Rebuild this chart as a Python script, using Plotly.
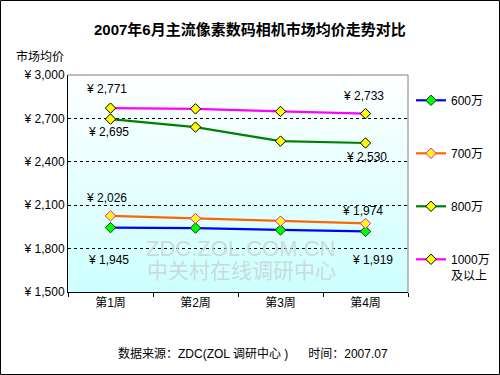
import plotly.graph_objects as go

weeks = ["第1周", "第2周", "第3周", "第4周"]
series_names = ["600万", "700万", "800万", "1000万<br>及以上"]
v600 = [1945, 1942, 1929, 1919]
v700 = [2026, 2008, 1990, 1974]
v800 = [2695, 2640, 2543, 2530]
v1000 = [2771, 2766, 2748, 2733]
y_ticks = [1500, 1800, 2100, 2400, 2700, 3000]

W, H = 500, 375
L, R, T, B = 68, 92, 75, 83
PW, PH = W - L - R, H - T - B
FONT = "Arial, 'Liberation Sans', 'Noto Sans CJK SC', sans-serif"

def px_x(x):
    return (x - L) / PW

def px_y(y):
    return (H - B - y) / PH

line_colors = ["#0000FF", "#FF6600", "#008000", "#FF00FF"]
mk_fill = ["#00FF00", "#FFFF00", "#FFFF00", "#FFFF00"]
mk_line = ["#004000", "#FF00FF", "#000000", "#000000"]
all_vals = [v600, v700, v800, v1000]

fig = go.Figure()
for i, (name, vals) in enumerate(zip(series_names, all_vals)):
    fig.add_trace(go.Scatter(
        x=weeks, y=vals, name=name, mode="lines+markers",
        line=dict(color=line_colors[i], width=2.2),
        marker=dict(symbol="diamond", size=8, color=mk_fill[i],
                    line=dict(color=mk_line[i], width=1)),
        legendgroup=str(i),
    ))

shapes = []
# gradient background bands
N = 60
for k in range(N):
    t0, t1 = k / N, (k + 1) / N
    f = (k + 0.5) / N  # 0 bottom -> 1 top
    r = int(round(204 + (255 - 204) * f))
    shapes.append(dict(type="rect", xref="paper", yref="paper",
                       x0=0, x1=1, y0=t0, y1=t1 + 0.002,
                       fillcolor=f"rgb({r},255,255)", line=dict(width=0),
                       layer="below"))
# top and right plot border (gray)
shapes.append(dict(type="line", xref="paper", yref="paper", x0=0, x1=1, y0=1, y1=1,
                   line=dict(color="#808080", width=1)))
shapes.append(dict(type="line", xref="paper", yref="paper", x0=1, x1=1, y0=0, y1=1,
                   line=dict(color="#808080", width=1)))
# outer frame
shapes.append(dict(type="rect", xref="paper", yref="paper",
                   x0=px_x(0.5), x1=px_x(W - 0.5), y0=px_y(H - 0.5), y1=px_y(0.5),
                   line=dict(color="#000000", width=1)))

annotations = []
# data labels first/last
label_specs = [
    (v1000, 0, -4, 19), (v1000, 3, -2, 18),
    (v800, 0, -2, -13), (v800, 3, 1, -14),
    (v700, 0, -4, 18), (v700, 3, -3, 12),
    (v600, 0, -2, -32), (v600, 3, 7, -29),
]
for vals, idx, dx, dy in label_specs:
    annotations.append(dict(x=weeks[idx], y=vals[idx], xref="x", yref="y",
                            text=f"¥ {vals[idx]:,}", showarrow=False,
                            xanchor="center", yanchor="middle",
                            xshift=dx, yshift=dy,
                            font=dict(size=12, color="#000000", family=FONT)))

def paper_text(x, y, text, size, color="#000"):
    annotations.append(dict(x=px_x(x), y=px_y(y), xref="paper", yref="paper",
                            text=text, showarrow=False,
                            xanchor="center", yanchor="middle",
                            font=dict(size=size, color=color, family=FONT)))

paper_text(250, 30, "<b>2007年6月主流像素数码相机市场均价走势对比</b>", 15)
paper_text(40, 57, "市场均价", 12)
paper_text(253, 353, "数据来源：ZDC(ZOL 调研中心 )&nbsp;&nbsp;&nbsp;&nbsp;&nbsp;&nbsp;时间：2007.07", 12)
paper_text(240, 248, "ZDC.ZOL.COM.CN", 22, "rgba(200,212,212,0.85)")
paper_text(241, 270, "中关村在线调研中心", 21, "rgba(200,212,212,0.85)")

fig.update_layout(
    width=W, height=H,
    margin=dict(l=L, r=R, t=T, b=B, autoexpand=False),
    paper_bgcolor="#FFFFFF",
    plot_bgcolor="rgba(0,0,0,0)",
    font=dict(family=FONT, size=12, color="#000"),
    shapes=shapes,
    annotations=annotations,
    showlegend=True,
    legend=dict(x=411 / W, xref="container", xanchor="left",
                y=1 - 86 / H, yref="container", yanchor="top",
                bgcolor="rgba(0,0,0,0)", tracegroupgap=34, valign="top",
                maxheight=300, font=dict(size=12, family=FONT)),
    xaxis=dict(type="category", categoryorder="array", categoryarray=weeks,
               range=[-0.5, 3.5], showline=True, linecolor="#000", linewidth=1,
               tickson="boundaries", ticks="outside", ticklen=4, tickcolor="#000",
               showgrid=False, tickfont=dict(size=12), fixedrange=True),
    yaxis=dict(range=[1500, 3000], tickvals=y_ticks, ticktext=[f"¥ {v:,}" for v in y_ticks],
               showline=True, linecolor="#000", linewidth=1, ticks="",
               showgrid=True, gridcolor="#000", griddash="3px,3px", gridwidth=1,
               zeroline=False, tickfont=dict(size=12), fixedrange=True),
)

fig.write_html("out.html", config={"displayModeBar": False},
               post_script="document.body.style.margin='0';document.body.style.overflow='hidden';")
